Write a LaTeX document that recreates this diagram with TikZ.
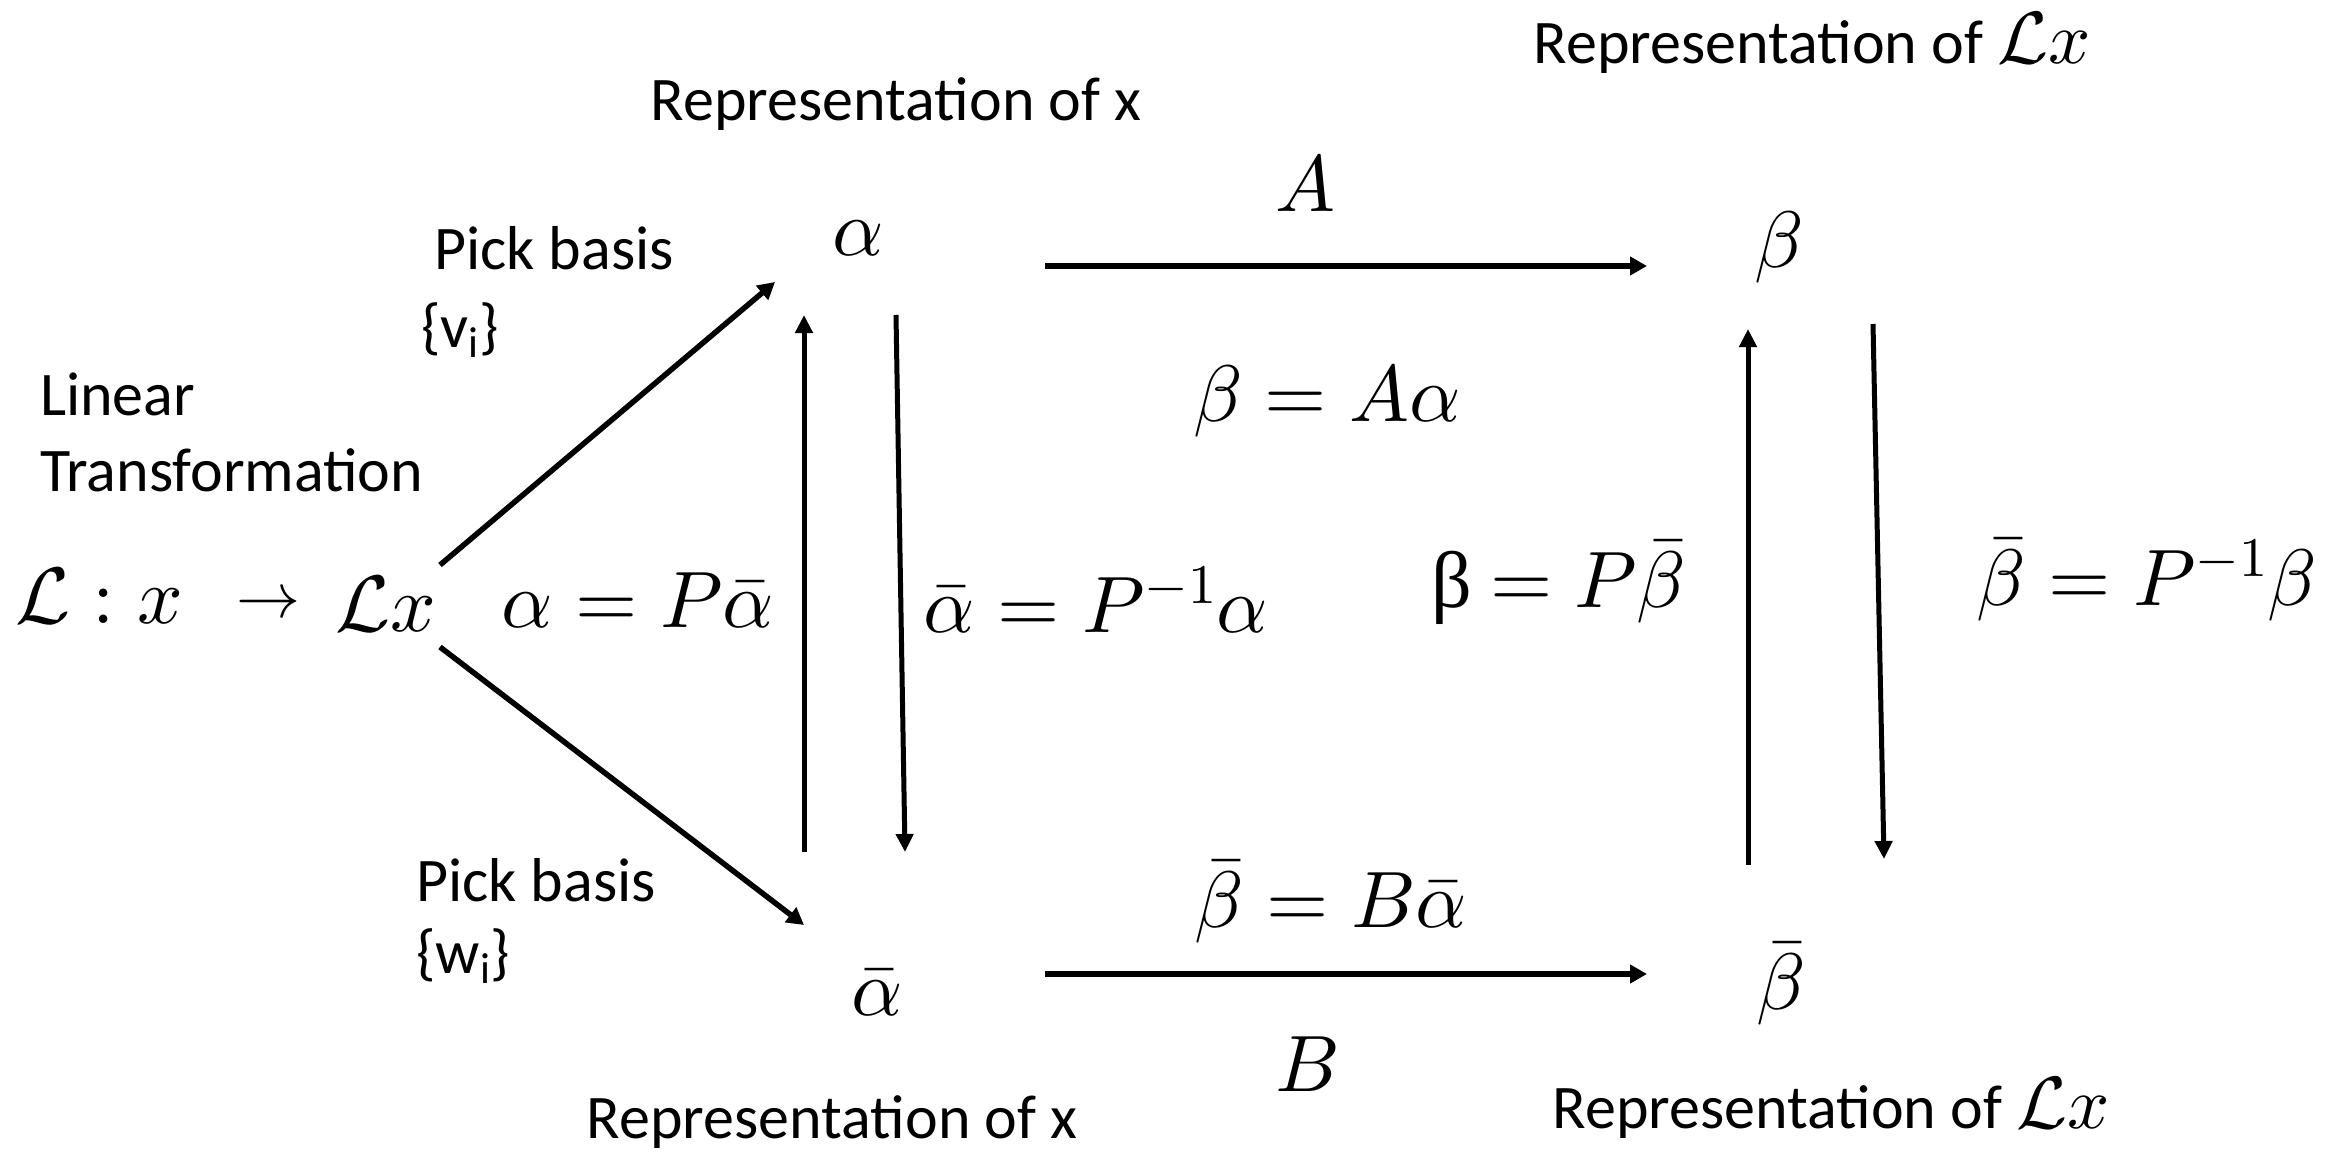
\documentclass[tikz,border=0pt]{standalone}
\usepackage{fontspec}
\setmainfont{Carlito}
\newfontfamily\grkfont{Liberation Serif}
\DeclareFontFamily{OML}{cmm}{\skewchar\font127 }
\DeclareFontShape{OML}{cmm}{m}{it}{<->cmmi10}{}
\DeclareFontShape{OML}{cmm}{b}{it}{<->cmmib10}{}
\DeclareFontFamily{OMS}{cmsy}{\skewchar\font48 }
\DeclareFontShape{OMS}{cmsy}{m}{n}{<->cmsy10}{}
\DeclareFontShape{OMS}{cmsy}{b}{n}{<->cmbsy10}{}
\DeclareFontFamily{OT1}{cmr}{\hyphenchar\font45 }
\DeclareFontShape{OT1}{cmr}{m}{n}{<->cmr10}{}
\DeclareFontFamily{OMX}{cmex}{}
\DeclareFontShape{OMX}{cmex}{m}{n}{<->cmex10}{}
\usetikzlibrary{arrows.meta}
\tikzset{
  txt/.style={inner sep=0pt, font=\fontsize{62}{74}\selectfont},
  mth/.style={inner sep=0pt, font=\fontsize{80}{96}\selectfont},
  harr/.style={line width=5.5pt, -{Triangle[length=17pt,width=18pt]}},
  varr/.style={line width=5pt, -{Triangle[length=18pt,width=17pt]}},
}
\begin{document}
\begin{tikzpicture}[x=1pt,y=-1pt]
\path[use as bounding box] (0,0) rectangle (2331,1153);
% texts
\node[txt] (repxt) at (896,104) {Representation of x};
\node[txt,anchor=base] (replxt) at (1812,64) {Representation of {\fontsize{74}{80}\selectfont$\mathcal{L}x$}};
\node[txt] (repxb) at (832,1122) {Representation of x};
\node[txt] (replxb) at (1831,1108) {Representation of {\fontsize{74}{80}\selectfont$\mathcal{L}x$}};
\node[txt,anchor=west] (pick1) at (434,248) {Pick basis};
\node[txt,anchor=west] (vi) at (421,330) {\{v\textsubscript{i}\}};
\node[txt,anchor=west] (pick2) at (416,880) {Pick basis};
\node[txt,anchor=west] (wi) at (416,956) {\{w\textsubscript{i}\}};
\node[txt,anchor=west] (lin) at (40,394) {Linear};
\node[txt,anchor=west] (trans) at (40,470) {Transformation};
% math nodes
\node[mth,anchor=base west] (Lmap) at (15,623) {$\mathcal{L}\mathrel{:}x$};
\node[inner sep=0pt,font=\fontsize{64}{70}\selectfont] (to) at (268,606) {$\rightarrow$};
\node[mth] (Lx) at (386,604) {$\mathcal{L}x$};
\node[mth] (alpha) at (858,238) {$\alpha$};
\node[mth] (beta) at (1779,247) {$\beta$};
\node[mth] (abar) at (877,993) {$\bar{\alpha}$};
\node[mth] (bbar) at (1781,984) {$\bar{\beta}$};
\node[mth] (A) at (1305,184) {$A$};
\node[mth] (B) at (1308,1064) {$B$};
\node[mth] (eqA) at (1327,401) {$\beta = A\alpha$};
\node[mth] (eqB) at (1331,902) {$\bar{\beta} = B\bar{\alpha}$};
\node[mth] (eqP1) at (638,600) {$\alpha = P\bar{\alpha}$};
\node[mth] (eqP2) at (1096,600) {$\bar{\alpha} = P^{-1}\alpha$};
\node[mth] (eqP3) at (1559,583) {{\grkfont β}$\mkern4mu = P\bar{\beta}$};
\node[mth] (eqP4) at (2147,580) {$\bar{\beta} = P^{-1}\beta$};
% connector end points
\coordinate (d1s) at (440,565);  \coordinate (d1e) at (775,282);
\coordinate (d2s) at (440,647);  \coordinate (d2e) at (804,925);
\coordinate (a1) at (1045,266);  \coordinate (a2) at (1647,266);
\coordinate (b1) at (1045,974);  \coordinate (b2) at (1647,974);
\coordinate (u1s) at (804,852);  \coordinate (u1e) at (804,315);
\coordinate (v1s) at (896,315);  \coordinate (v1e) at (905,852);
\coordinate (u2s) at (1748,865); \coordinate (u2e) at (1748,329);
\coordinate (v2s) at (1873,324); \coordinate (v2e) at (1884,859);
% connectors
\draw[harr] (d1s) -- (d1e);
\draw[harr] (d2s) -- (d2e);
\draw[harr] (a1) -- (a2);
\draw[harr] (b1) -- (b2);
\draw[varr] (u1s) -- (u1e);
\draw[varr] (v1s) -- (v1e);
\draw[varr] (u2s) -- (u2e);
\draw[varr] (v2s) -- (v2e);
\end{tikzpicture}
\end{document}
